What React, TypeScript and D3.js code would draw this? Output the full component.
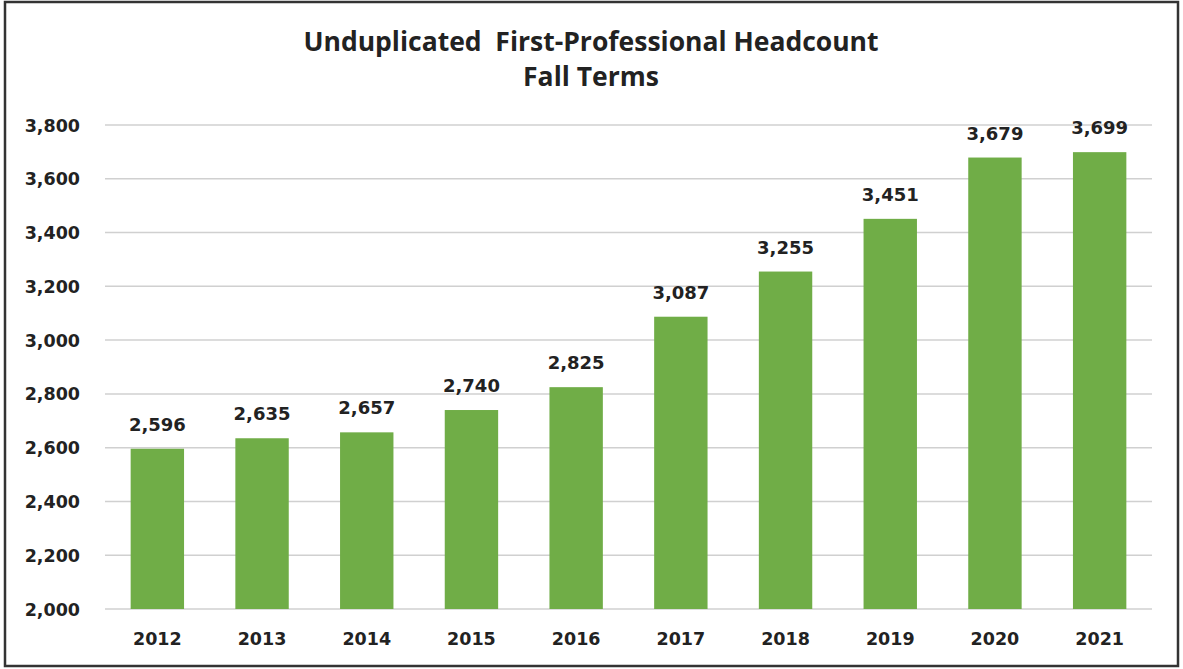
import React from "react";
import * as d3 from "d3";

const years = ["2012","2013","2014","2015","2016","2017","2018","2019","2020","2021"];
const headcount = [2596,2635,2657,2740,2825,3087,3255,3451,3679,3699];
const yTicks = [2000,2200,2400,2600,2800,3000,3200,3400,3600,3800];
const titleLines = ["Unduplicated\u00a0 First-Professional Headcount","Fall Terms"];

export default function App() {
  const W = 1183, H = 669;
  const left = 105, right = 1152, top = 125, bottom = 609;
  const x = d3.scaleBand().domain(years).range([left, right]).paddingInner(0.49).paddingOuter(0.245);
  const y = d3.scaleLinear().domain([2000, 3800]).range([bottom, top]);
  const fmt = d3.format(",");
  const font = "'DejaVu Sans', Verdana, sans-serif";
  const titleFont = "'Open Sans', 'Noto Sans', sans-serif";
  return (
    <svg width={W} height={H} style={{ position: "absolute", left: 0, top: 0, background: "#fff" }}>
      <rect x={5} y={2} width={1173} height={664} fill="#fff" stroke="#333" strokeWidth={2.5} />
      {titleLines.map((t, i) => (
        <text key={t} x={591} y={51 + i * 35} textAnchor="middle" fontFamily={titleFont} fontWeight="bold" fontSize={26.5} fill="#222">{t}</text>
      ))}
      {yTicks.map(v => (
        <g key={v}>
          <line x1={left} x2={right} y1={y(v)} y2={y(v)} stroke="#d0d0d0" strokeWidth={1.5} />
          <text x={80} y={y(v) + 6.5} textAnchor="end" fontFamily={font} fontWeight="bold" fontSize={17.5} fill="#222">{fmt(v)}</text>
        </g>
      ))}
      {years.map((yr, i) => (
        <g key={yr}>
          <rect x={x(yr)} y={y(headcount[i])} width={x.bandwidth()} height={bottom - y(headcount[i])} fill="#70AD47" />
          <text x={x(yr)! + x.bandwidth() / 2} y={y(headcount[i]) - 18} textAnchor="middle" fontFamily={font} fontWeight="bold" fontSize={18} fill="#222">{fmt(headcount[i])}</text>
          <text x={x(yr)! + x.bandwidth() / 2} y={645} textAnchor="middle" fontFamily={font} fontWeight="bold" fontSize={17.5} fill="#222">{yr}</text>
        </g>
      ))}
    </svg>
  );
}
